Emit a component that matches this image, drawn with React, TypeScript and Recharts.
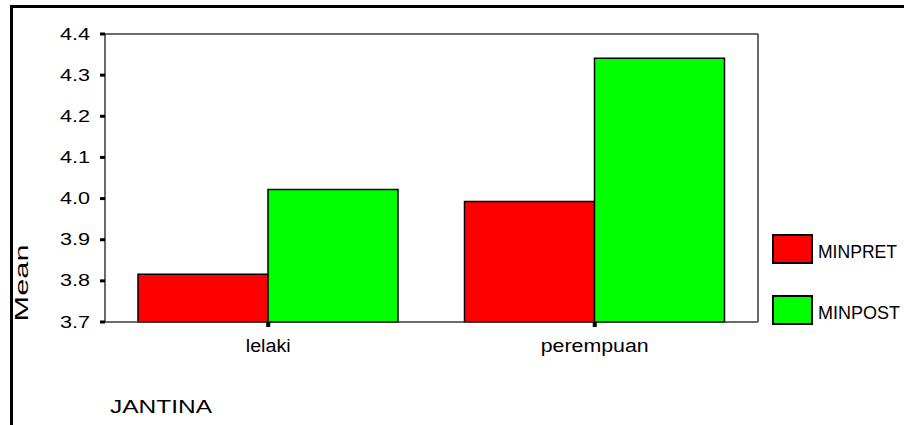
import React from 'react';
import { BarChart, Bar, XAxis, YAxis, Legend } from 'recharts';

const categories = ['lelaki', 'perempuan'];
const minpret = [3.816, 3.993];
const minpost = [4.022, 4.341];
const yTicks = [3.7, 3.8, 3.9, 4.0, 4.1, 4.2, 4.3, 4.4];
const seriesNames = ['MINPRET', 'MINPOST'];
const seriesColors = ['#ff0000', '#00ff00'];
const xTitle = 'JANTINA';
const yTitle = 'Mean';

const data = categories.map((c, i) => ({
  name: c,
  [seriesNames[0]]: minpret[i],
  [seriesNames[1]]: minpost[i],
}));

const FONT = '"Liberation Sans", Arial, Helvetica, sans-serif';
const xLabelWidths: Record<string, number> = { lelaki: 45, perempuan: 108 };
const legendWidths: Record<string, number> = { MINPRET: 79, MINPOST: 82 };
const FRAME = '#3a3a3a';

const YTick = (props: any) => {
  const { x, y, payload } = props;
  return (
    <text
      x={x}
      y={y}
      dy={5.5}
      textAnchor="end"
      fontSize={16}
      fontFamily={FONT}
      fill="#000"
      textLength={30}
      lengthAdjust="spacingAndGlyphs"
    >
      {Number(payload.value).toFixed(1)}
    </text>
  );
};

const XTick = (props: any) => {
  const { x, y, payload } = props;
  const w = xLabelWidths[payload.value];
  return (
    <text
      x={x}
      y={y}
      dy={23}
      textAnchor="middle"
      fontSize={18}
      fontFamily={FONT}
      fill="#000"
      textLength={w}
      lengthAdjust="spacingAndGlyphs"
    >
      {payload.value}
    </text>
  );
};

const MeanLabel = (props: any) => {
  const vb = props.viewBox || { x: 0, y: 34, width: 105, height: 288 };
  const cx = vb.x + 28;
  const cy = vb.y + vb.height - 39;
  return (
    <text
      x={cx}
      y={cy}
      transform={`rotate(-90 ${cx} ${cy})`}
      textAnchor="middle"
      fontSize={19}
      fontFamily={FONT}
      fill="#000"
      textLength={77}
      lengthAdjust="spacingAndGlyphs"
    >
      {yTitle}
    </text>
  );
};

const JantinaLabel = (props: any) => {
  const vb = props.viewBox || { x: 105, y: 322, width: 653, height: 103 };
  return (
    <text
      x={vb.x + 5}
      y={vb.y + 91}
      textAnchor="start"
      fontSize={18}
      fontFamily={FONT}
      fill="#000"
      textLength={102}
      lengthAdjust="spacingAndGlyphs"
    >
      {xTitle}
    </text>
  );
};

const renderLegend = (props: any) => {
  const items = seriesNames.map((n, i) => {
    const found = (props.payload || []).find((p: any) => p.value === n || p.dataKey === n);
    return { value: n, color: (found && found.color) || seriesColors[i] };
  });
  return (
    <svg width={132} height={100} style={{ display: 'block' }}>
      {items.map((p: any, i: number) => (
        <g key={p.value} transform={`translate(0 ${i * 61})`}>
          <rect x={1} y={1} width={39} height={28} fill={p.color} stroke="#000" strokeWidth={2} />
          <text
            x={46}
            y={24}
            fontSize={18}
            fontFamily={FONT}
            fill="#000"
            textLength={legendWidths[p.value] || 80}
            lengthAdjust="spacingAndGlyphs"
          >
            {p.value}
          </text>
        </g>
      ))}
    </svg>
  );
};

export default function App() {
  return (
    <div style={{ position: 'absolute', left: 0, top: 0, width: 904, height: 425, background: '#fff', overflow: 'hidden' }}>
      <div style={{ position: 'absolute', left: 10, top: 5, width: 894, height: 3, background: '#000' }} />
      <div style={{ position: 'absolute', left: 10, top: 5, width: 3, height: 420, background: '#000' }} />
      <div style={{ position: 'absolute', left: 0, top: 0 }}>
        <BarChart
          width={904}
          height={425}
          data={data}
          margin={{ top: 33, right: 145, bottom: 0, left: 0 }}
          barGap={0}
          barCategoryGap={0}
        >
          <XAxis
            dataKey="name"
            height={103}
            tickSize={5}
            tickMargin={2}
            tickLine={{ stroke: '#000', strokeWidth: 4 }}
            axisLine={{ stroke: FRAME, strokeWidth: 1.5 }}
            tick={<XTick />}
            interval={0}
            label={<JantinaLabel />}
          />
          <XAxis
            xAxisId="top"
            dataKey="name"
            orientation="top"
            height={1}
            tick={false}
            tickLine={false}
            axisLine={{ stroke: FRAME, strokeWidth: 1.5 }}
          />
          <YAxis
            type="number"
            domain={[3.7, 4.4]}
            ticks={yTicks}
            width={105}
            tickSize={5}
            tickMargin={10}
            tickLine={{ stroke: '#000', strokeWidth: 3 }}
            axisLine={{ stroke: FRAME, strokeWidth: 1.5 }}
            tick={<YTick />}
            interval={0}
            label={<MeanLabel />}
          />
          <YAxis
            yAxisId="right"
            orientation="right"
            type="number"
            domain={[3.7, 4.4]}
            width={1}
            tick={false}
            tickLine={false}
            axisLine={{ stroke: FRAME, strokeWidth: 1.5 }}
          />
          <Legend
            layout="horizontal"
            verticalAlign="middle"
            align="center"
            wrapperStyle={{ position: 'absolute', left: 772, top: 234, width: 132, height: 100 }}
            content={renderLegend}
          />
          <Bar
            dataKey={seriesNames[0]}
            name={seriesNames[0]}
            fill={seriesColors[0]}
            stroke="#000"
            strokeWidth={1.5}
            barSize={130}
            isAnimationActive={false}
          />
          <Bar
            dataKey={seriesNames[1]}
            name={seriesNames[1]}
            fill={seriesColors[1]}
            stroke="#000"
            strokeWidth={1.5}
            barSize={130}
            isAnimationActive={false}
          />
        </BarChart>
      </div>
    </div>
  );
}
